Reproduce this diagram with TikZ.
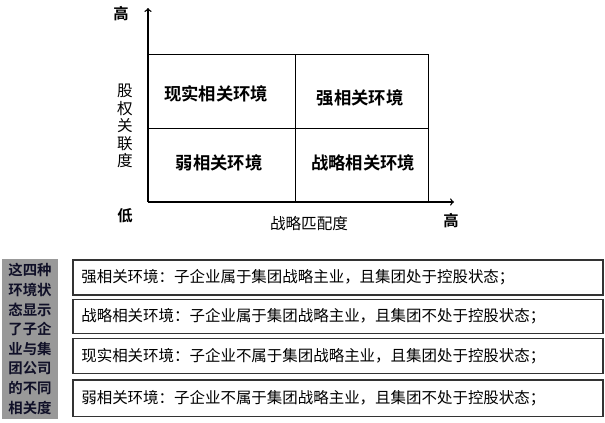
\documentclass[tikz,border=0pt]{standalone}
\usepackage{fontspec}
\setmainfont{Noto Sans CJK SC}[BoldFont={Noto Sans CJK SC Bold}]
\definecolor{sidegray}{RGB}{153,153,153}
\definecolor{sidetext}{RGB}{16,16,40}
\begin{document}
\begin{tikzpicture}[x=0.75pt,y=-0.75pt,
                cell/.style={
                    draw=black,
                    line width=1pt,
                    rectangle,
                    anchor=north west,
                    minimum height=55.5pt
                },
                quadlabel/.style={
                    font=\bfseries\fontsize{13pt}{15pt}\selectfont
                },
                axislabel/.style={
                    font=\fontsize{11.7pt}{13.1pt}\selectfont,
                    align=center
                },
                endlabel/.style={
                    font=\bfseries\fontsize{11.5pt}{13pt}\selectfont
                },
                descbox/.style={
                    draw=black!80,
                    line width=0.9pt,
                    rectangle,
                    text width=385pt,
                    inner xsep=6.3pt,
                    align=left,
                    font=\fontsize{11.6pt}{14pt}\selectfont
                },
                sidebox/.style={
                    fill=sidegray,
                    rectangle,
                    minimum width=42pt,
                    minimum height=120pt,
                    inner sep=0pt,
                    align=center,
                    text=sidetext,
                    font=\bfseries\fontsize{10.8pt}{14.7pt}\selectfont
                },
                axis/.style={
                    ->,
                    line width=1pt
                }
            ]
    \useasboundingbox (0,0) rectangle (605,422);

    % the matrix
    \node[cell, minimum width=110.25pt] (cellA) at (148,54)  {};
    \node[cell, minimum width=99.75pt]  (cellB) at (295,54)  {};
    \node[cell, minimum width=110.25pt] (cellC) at (148,128) {};
    \node[cell, minimum width=99.75pt]  (cellD) at (295,128) {};

    \node[quadlabel] (real)   at (216,94)  {现实相关环境};
    \node[quadlabel] (strong) at (360,98)  {强相关环境};
    \node[quadlabel] (weak)   at (219,163) {弱相关环境};
    \node[quadlabel] (strat)  at (363,163) {战略相关环境};

    % axes
    \coordinate (origin) at (148,202);
    \coordinate (ytip)   at (148,8);
    \coordinate (xtip)   at (454,202);
    \draw[axis] (origin) -- (ytip);
    \draw[axis] (origin) -- (xtip);

    \node[endlabel]  (yhigh) at (121,14)  {高};
    \node[endlabel]  (low)   at (125,216) {低};
    \node[endlabel]  (xhigh) at (451,221) {高};
    \node[axislabel] (xname) at (309,224) {战略匹配度};
    \node[axislabel] (yname) at (125,126) {股\\权\\关\\联\\度};

    % the four descriptions
    \node[sidebox] (side) at (30,339) {这四种\\环境状\\态显示\\了子企\\业与集\\团公司\\的不同\\相关度};

    \node[descbox, minimum height=26.25pt] (descA) at (338,277.5) {强相关环境：子企业属于集团战略主业，且集团处于控股状态；};
    \node[descbox, minimum height=25.5pt]  (descB) at (338,316.3) {战略相关环境：子企业属于集团战略主业，且集团不处于控股状态；};
    \node[descbox, minimum height=26.25pt] (descC) at (338,355.8) {现实相关环境：子企业不属于集团战略主业，且集团处于控股状态；};
    \node[descbox, minimum height=27.5pt]  (descD) at (338,398.3) {弱相关环境：子企业不属于集团战略主业，且集团不处于控股状态；};
\end{tikzpicture}
\end{document}
